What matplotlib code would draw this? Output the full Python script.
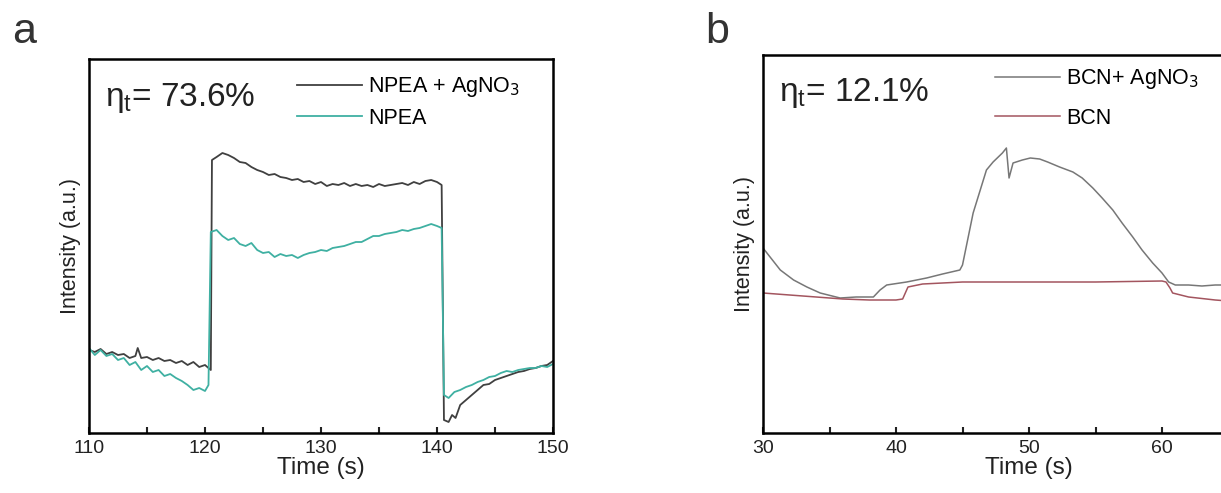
import matplotlib.pyplot as plt
import numpy as np
from matplotlib.ticker import MultipleLocator, FixedLocator

plt.rcParams['font.family'] = ['Liberation Sans', 'DejaVu Sans']

# panel a: NPEA + AgNO3 (dark) and NPEA (teal)
t_a1 = [110, 110.5, 111, 111.5, 112, 112.5, 113, 113.5, 114, 114.2, 114.5, 115, 115.5, 116, 116.5,
        117, 117.5, 118, 118.5, 119, 119.5, 120, 120.5, 120.6, 121, 121.5, 122, 122.5, 123, 123.5,
        124, 124.5, 125, 125.5, 126, 126.5, 127, 127.5, 128, 128.5, 129, 129.5, 130, 130.5, 131,
        131.5, 132, 132.5, 133, 133.5, 134, 134.5, 135, 135.5, 136, 136.5, 137, 137.5, 138, 138.5,
        139, 139.5, 140, 140.4, 140.6, 141, 141.3, 141.6, 142, 142.5, 143, 143.5, 144, 144.5, 145,
        145.5, 146, 146.5, 147, 147.5, 148, 148.5, 149, 149.5, 150]
y_a1 = [83, 81, 84, 79, 81, 78, 79, 75, 77, 85, 75, 76, 73, 75, 72,
        73, 70, 72, 68, 71, 66, 68, 63, 273, 276, 280, 278, 275, 271, 270,
        266, 263, 261, 258, 259, 256, 255, 253, 254, 251, 252, 249, 251, 247, 249,
        248, 250, 247, 249, 247, 248, 246, 249, 247, 248, 249, 250, 248, 251, 249,
        252, 253, 251, 248, 13, 11, 18, 15, 28, 33, 38, 43, 48, 49, 53,
        55, 57, 59, 61, 62, 64, 65, 67, 68, 72]

t_a2 = [110, 110.5, 111, 111.5, 112, 112.5, 113, 113.5, 114, 114.5, 115, 115.5, 116, 116.5, 117,
        117.5, 118, 118.5, 119, 119.5, 120, 120.3, 120.5, 121, 121.5, 122, 122.5, 123, 123.5, 124,
        124.5, 125, 125.5, 126, 126.5, 127, 127.5, 128, 128.5, 129, 129.5, 130, 130.5, 131, 131.5,
        132, 132.5, 133, 133.5, 134, 134.5, 135, 135.5, 136, 136.5, 137, 137.5, 138, 138.5, 139,
        139.5, 140, 140.4, 140.6, 141, 141.5, 142, 142.5, 143, 143.5, 144, 144.5, 145, 145.5, 146,
        146.5, 147, 147.5, 148, 148.5, 149, 149.5, 150]
y_a2 = [85, 78, 83, 77, 79, 73, 75, 68, 71, 63, 67, 61, 63, 57, 59,
        55, 52, 48, 43, 45, 42, 48, 201, 203, 197, 193, 195, 189, 187, 190,
        183, 180, 181, 176, 179, 177, 178, 175, 178, 180, 181, 183, 182, 185, 186,
        187, 189, 191, 191, 194, 197, 197, 199, 200, 201, 203, 202, 204, 205, 207,
        209, 207, 205, 38, 35, 41, 43, 46, 48, 51, 53, 56, 57, 60, 62,
        61, 63, 64, 65, 65, 67, 66, 69]

# panel b: BCN + AgNO3 (gray) and BCN (red)
t_b1 = [30, 31.3, 32.3, 33.3, 34.3, 35.8, 37, 38.3, 38.8, 39.3, 40.8, 42.3, 43.5, 44.8, 45.0,
        45.8, 46.8, 47.3, 48.0, 48.3, 48.5, 48.8, 49.5, 50.1, 50.8, 51.4, 52.3, 53.3, 54.0, 54.8,
        55.5, 56.3, 57.0, 57.8, 58.5, 59.3, 60.0, 60.5, 61, 62, 63, 64, 65, 66]
y_b1 = [185, 163, 153, 146, 140, 135, 136, 136, 143, 148, 151, 155, 159, 163, 168,
        220, 263, 271, 280, 285, 255, 270, 273, 275, 274, 271, 266, 261, 255, 245,
        235, 223, 210, 196, 183, 170, 160, 151, 148, 148, 147, 148, 148, 148]

t_b2 = [30, 32, 34, 36, 38, 40, 40.5, 40.9, 42, 43.5, 45, 47, 50, 55, 60, 60.3, 60.6, 60.8, 62,
        64, 66]
y_b2 = [140, 138, 136, 134, 133, 133, 134, 146, 149, 150, 151, 151, 151, 151, 152, 151, 145,
        140, 136, 133, 131]

fig = plt.figure(figsize=(12.21, 4.93), dpi=100)
ax1 = fig.add_axes([89 / 1221, 60 / 493, 464 / 1221, 374 / 493])
ax2 = fig.add_axes([763 / 1221, 60 / 493, 532 / 1221, 378 / 493])

ax1.plot(t_a1, y_a1, color='#404040', lw=1.3, label='NPEA + AgNO$_3$')
ax1.plot(t_a2, y_a2, color='#3fb0a2', lw=1.3, label='NPEA')
ax1.set_xlim(110, 150)
ax1.set_ylim(0, 374)
ax1.xaxis.set_major_locator(MultipleLocator(10))

ax2.plot(t_b1, y_b1, color='#777777', lw=1.1, label='BCN+ AgNO$_3$')
ax2.plot(t_b2, y_b2, color='#a3555f', lw=1.1, label='BCN')
ax2.set_xlim(30, 70)
ax2.set_ylim(0, 378)
ax2.xaxis.set_major_locator(FixedLocator([30, 40, 50, 60]))

for ax in (ax1, ax2):
    ax.xaxis.set_minor_locator(MultipleLocator(5))
    ax.tick_params(axis='x', which='both', direction='in', length=4, width=1.5,
                   labelsize=14, pad=5, colors='#222222')
    ax.tick_params(axis='y', left=False, labelleft=False)
    for s in ax.spines.values():
        s.set_linewidth(1.8)
    ax.set_xlabel('Time (s)', fontsize=17.5, labelpad=0, color='#222222')
    ax.set_ylabel('Intensity (a.u.)', fontsize=15.5, labelpad=6, color='#222222')

ax1.legend(loc='upper left', bbox_to_anchor=(0.43, 0.98), frameon=False, fontsize=15.5,
           handlelength=3.0, handletextpad=0.3, labelspacing=0.4, borderaxespad=0)
ax2.legend(loc='upper left', bbox_to_anchor=(0.42, 0.99), frameon=False, fontsize=15.5,
           handlelength=3.0, handletextpad=0.3, labelspacing=0.75, borderaxespad=0)

ax1.text(0.035, 0.895, r'$\mathregular{\eta_t}$= 73.6%', transform=ax1.transAxes,
         fontsize=24, va='center', color='#222222')
ax2.text(0.03, 0.90, r'$\mathregular{\eta_t}$= 12.1%', transform=ax2.transAxes,
         fontsize=24, va='center', color='#222222')

fig.text(12 / 1221, 1 - 32 / 493, 'a', fontsize=31, va='center', color='#333333')
fig.text(705 / 1221, 1 - 32 / 493, 'b', fontsize=31, va='center', color='#333333')

fig.savefig('out.png', dpi=100)
